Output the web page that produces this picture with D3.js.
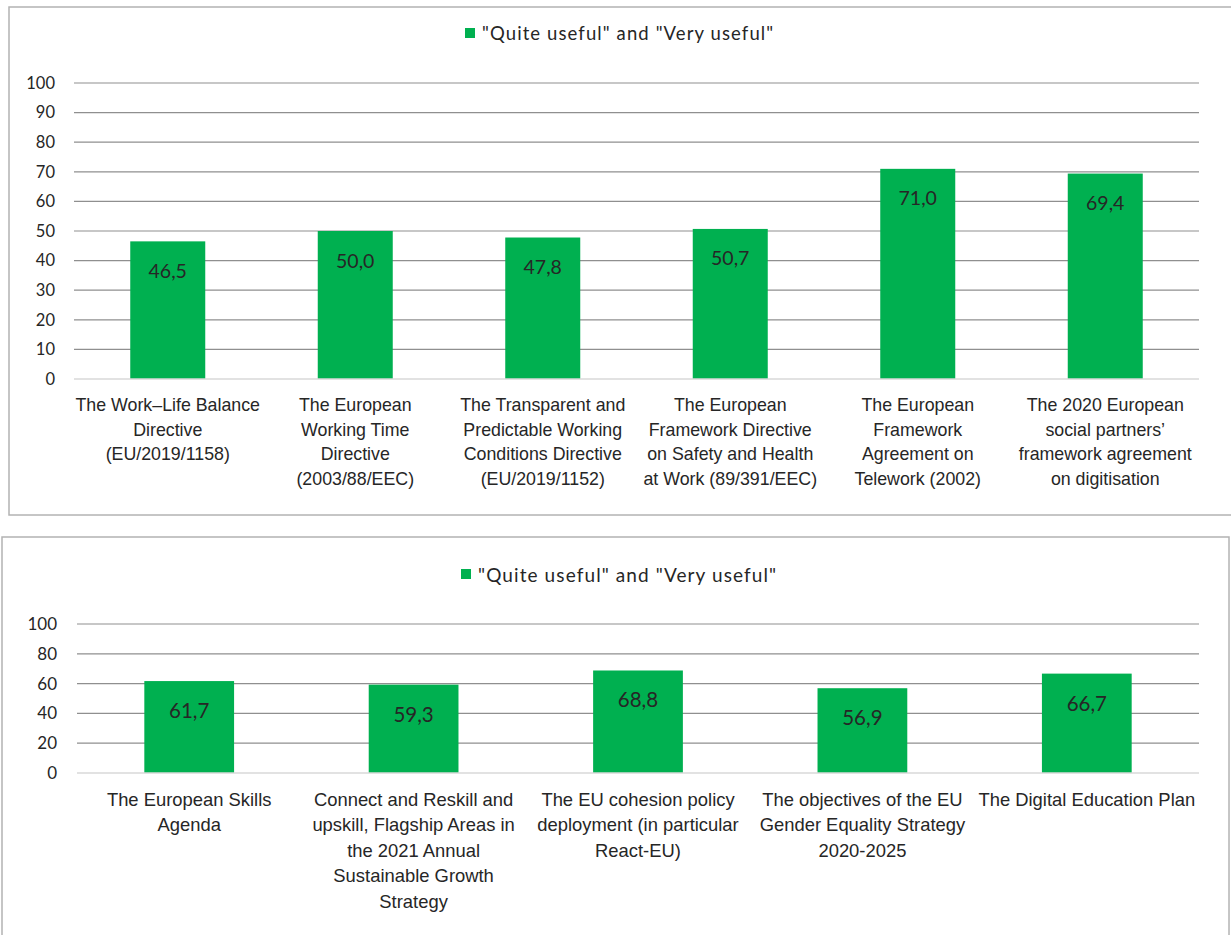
<!DOCTYPE html>
<html>
<head>
<meta charset="utf-8">
<script src="https://cdn.jsdelivr.net/npm/d3@7"></script>
<style>
  html, body { margin: 0; padding: 0; background: #fff; }
  svg { display: block; font-family: Lato, "Open Sans", sans-serif; }
</style>
</head>
<body>
<svg id="chart" width="1231" height="935"></svg>
<script>
// ---- data ----
const legendLabel = '"Quite useful" and "Very useful"';

const categoriesTop = [
  "The Work\u2013Life Balance\nDirective\n(EU/2019/1158)",
  "The European\nWorking Time\nDirective\n(2003/88/EEC)",
  "The Transparent and\nPredictable Working\nConditions Directive\n(EU/2019/1152)",
  "The European\nFramework Directive\non Safety and Health\nat Work (89/391/EEC)",
  "The European\nFramework\nAgreement on\nTelework (2002)",
  "The 2020 European\nsocial partners\u2019\nframework agreement\non digitisation"
];
const valuesTop = [46.5, 50.0, 47.8, 50.7, 71.0, 69.4];
const ticksTop = [0, 10, 20, 30, 40, 50, 60, 70, 80, 90, 100];

const categoriesBottom = [
  "The European Skills\nAgenda",
  "Connect and Reskill and\nupskill, Flagship Areas in\nthe 2021 Annual\nSustainable Growth\nStrategy",
  "The EU cohesion policy\ndeployment (in particular\nReact-EU)",
  "The objectives of the EU\nGender Equality Strategy\n2020-2025",
  "The Digital Education Plan"
];
const valuesBottom = [61.7, 59.3, 68.8, 56.9, 66.7];
const ticksBottom = [0, 20, 40, 60, 80, 100];

// ---- style ----
const BAR = "#00B050";
const GRID = "#8f8f8f";
const AXIS0 = "#d9d9d9";
const BORDER = "#b3b3b3";
const TEXT = "#262626";

const svg = d3.select("#chart");
const fmt = v => d3.format(".1f")(v).replace(".", ",");

function drawChart(cfg) {
  const g = svg.append("g");
  // frame
  g.append("rect")
    .attr("x", cfg.frame[0]).attr("y", cfg.frame[1])
    .attr("width", cfg.frame[2]).attr("height", cfg.frame[3])
    .attr("fill", "none").attr("stroke", BORDER).attr("stroke-width", 1.5);

  const y = d3.scaleLinear().domain([0, 100]).range([cfg.y0, cfg.y100]);
  const x = d3.scaleBand().domain(cfg.categories)
    .range([cfg.x0, cfg.x1]).paddingInner(0.6).paddingOuter(0.3);

  // gridlines
  g.append("g").selectAll("line").data(cfg.ticks.filter(t => t > 0)).join("line")
    .attr("x1", cfg.x0).attr("x2", cfg.x1)
    .attr("y1", d => y(d)).attr("y2", d => y(d))
    .attr("stroke", GRID).attr("stroke-width", 1.2);

  // y axis labels
  const yAxis = d3.axisLeft(y).tickValues(cfg.ticks).tickSize(0).tickPadding(0).tickFormat(d3.format("d"));
  const ya = g.append("g").attr("transform", `translate(${cfg.tickX},0)`).call(yAxis);
  ya.select(".domain").remove();
  ya.selectAll("text").attr("font-size", cfg.tickFont).attr("fill", TEXT)
    .attr("font-family", "Lato, sans-serif");

  // bars
  g.append("g").selectAll("rect").data(cfg.values).join("rect")
    .attr("x", (d, i) => x(cfg.categories[i]))
    .attr("width", x.bandwidth())
    .attr("y", d => y(d))
    .attr("height", d => y(0) - y(d))
    .attr("fill", BAR);

  // zero line
  g.append("line").attr("x1", cfg.x0).attr("x2", cfg.x1)
    .attr("y1", y(0)).attr("y2", y(0)).attr("stroke", AXIS0).attr("stroke-width", 1.5);

  // value labels
  g.append("g").selectAll("text").data(cfg.values).join("text")
    .attr("x", (d, i) => x(cfg.categories[i]) + x.bandwidth() / 2)
    .attr("y", d => y(d) + cfg.valOffset)
    .attr("text-anchor", "middle").attr("dominant-baseline", "central")
    .attr("font-size", cfg.valFont).attr("fill", TEXT)
    .text(fmt);

  // category labels
  const xa = d3.axisBottom(x).tickSize(0).tickFormat("");
  const xg = g.append("g").attr("transform", `translate(0,${y(0)})`).call(xa);
  xg.select(".domain").remove();
  xg.selectAll(".tick").each(function(d) {
    const t = d3.select(this).append("text")
      .attr("text-anchor", "middle").attr("fill", TEXT)
      .attr("font-size", cfg.catFont);
    d.split("\n").forEach((line, i) => {
      t.append("tspan").attr("x", 0).attr("y", cfg.catFirst + i * cfg.catLine)
        .attr("dominant-baseline", "central").text(line);
    });
  });

  // legend
  const lg = g.append("g");
  lg.append("rect").attr("x", cfg.legend[0]).attr("y", cfg.legend[1] - 5)
    .attr("width", 10).attr("height", 10).attr("fill", BAR);
  lg.append("text").attr("x", cfg.legend[0] + 17).attr("y", cfg.legend[1])
    .attr("dominant-baseline", "central").attr("font-size", cfg.legendFont)
    .attr("letter-spacing", cfg.legendSpacing)
    .attr("fill", TEXT).text(legendLabel);
}

drawChart({
  frame: [9, 7, 1240, 508],
  categories: categoriesTop, values: valuesTop, ticks: ticksTop,
  x0: 74, x1: 1199, y0: 379, y100: 83,
  tickX: 55, tickFont: 16.5,
  valOffset: 29, valFont: 19.5,
  catFirst: 26, catLine: 24.7, catFont: 17.8,
  legend: [465, 33], legendFont: 18.5, legendSpacing: 1.1
});

drawChart({
  frame: [2, 537, 1227, 420],
  categories: categoriesBottom, values: valuesBottom, ticks: ticksBottom,
  x0: 77, x1: 1199, y0: 773, y100: 624,
  tickX: 57, tickFont: 17,
  valOffset: 29, valFont: 20.5,
  catFirst: 26, catLine: 25.5, catFont: 18.4,
  legend: [461, 574], legendFont: 19, legendSpacing: 1.1
});
</script>
</body>
</html>
